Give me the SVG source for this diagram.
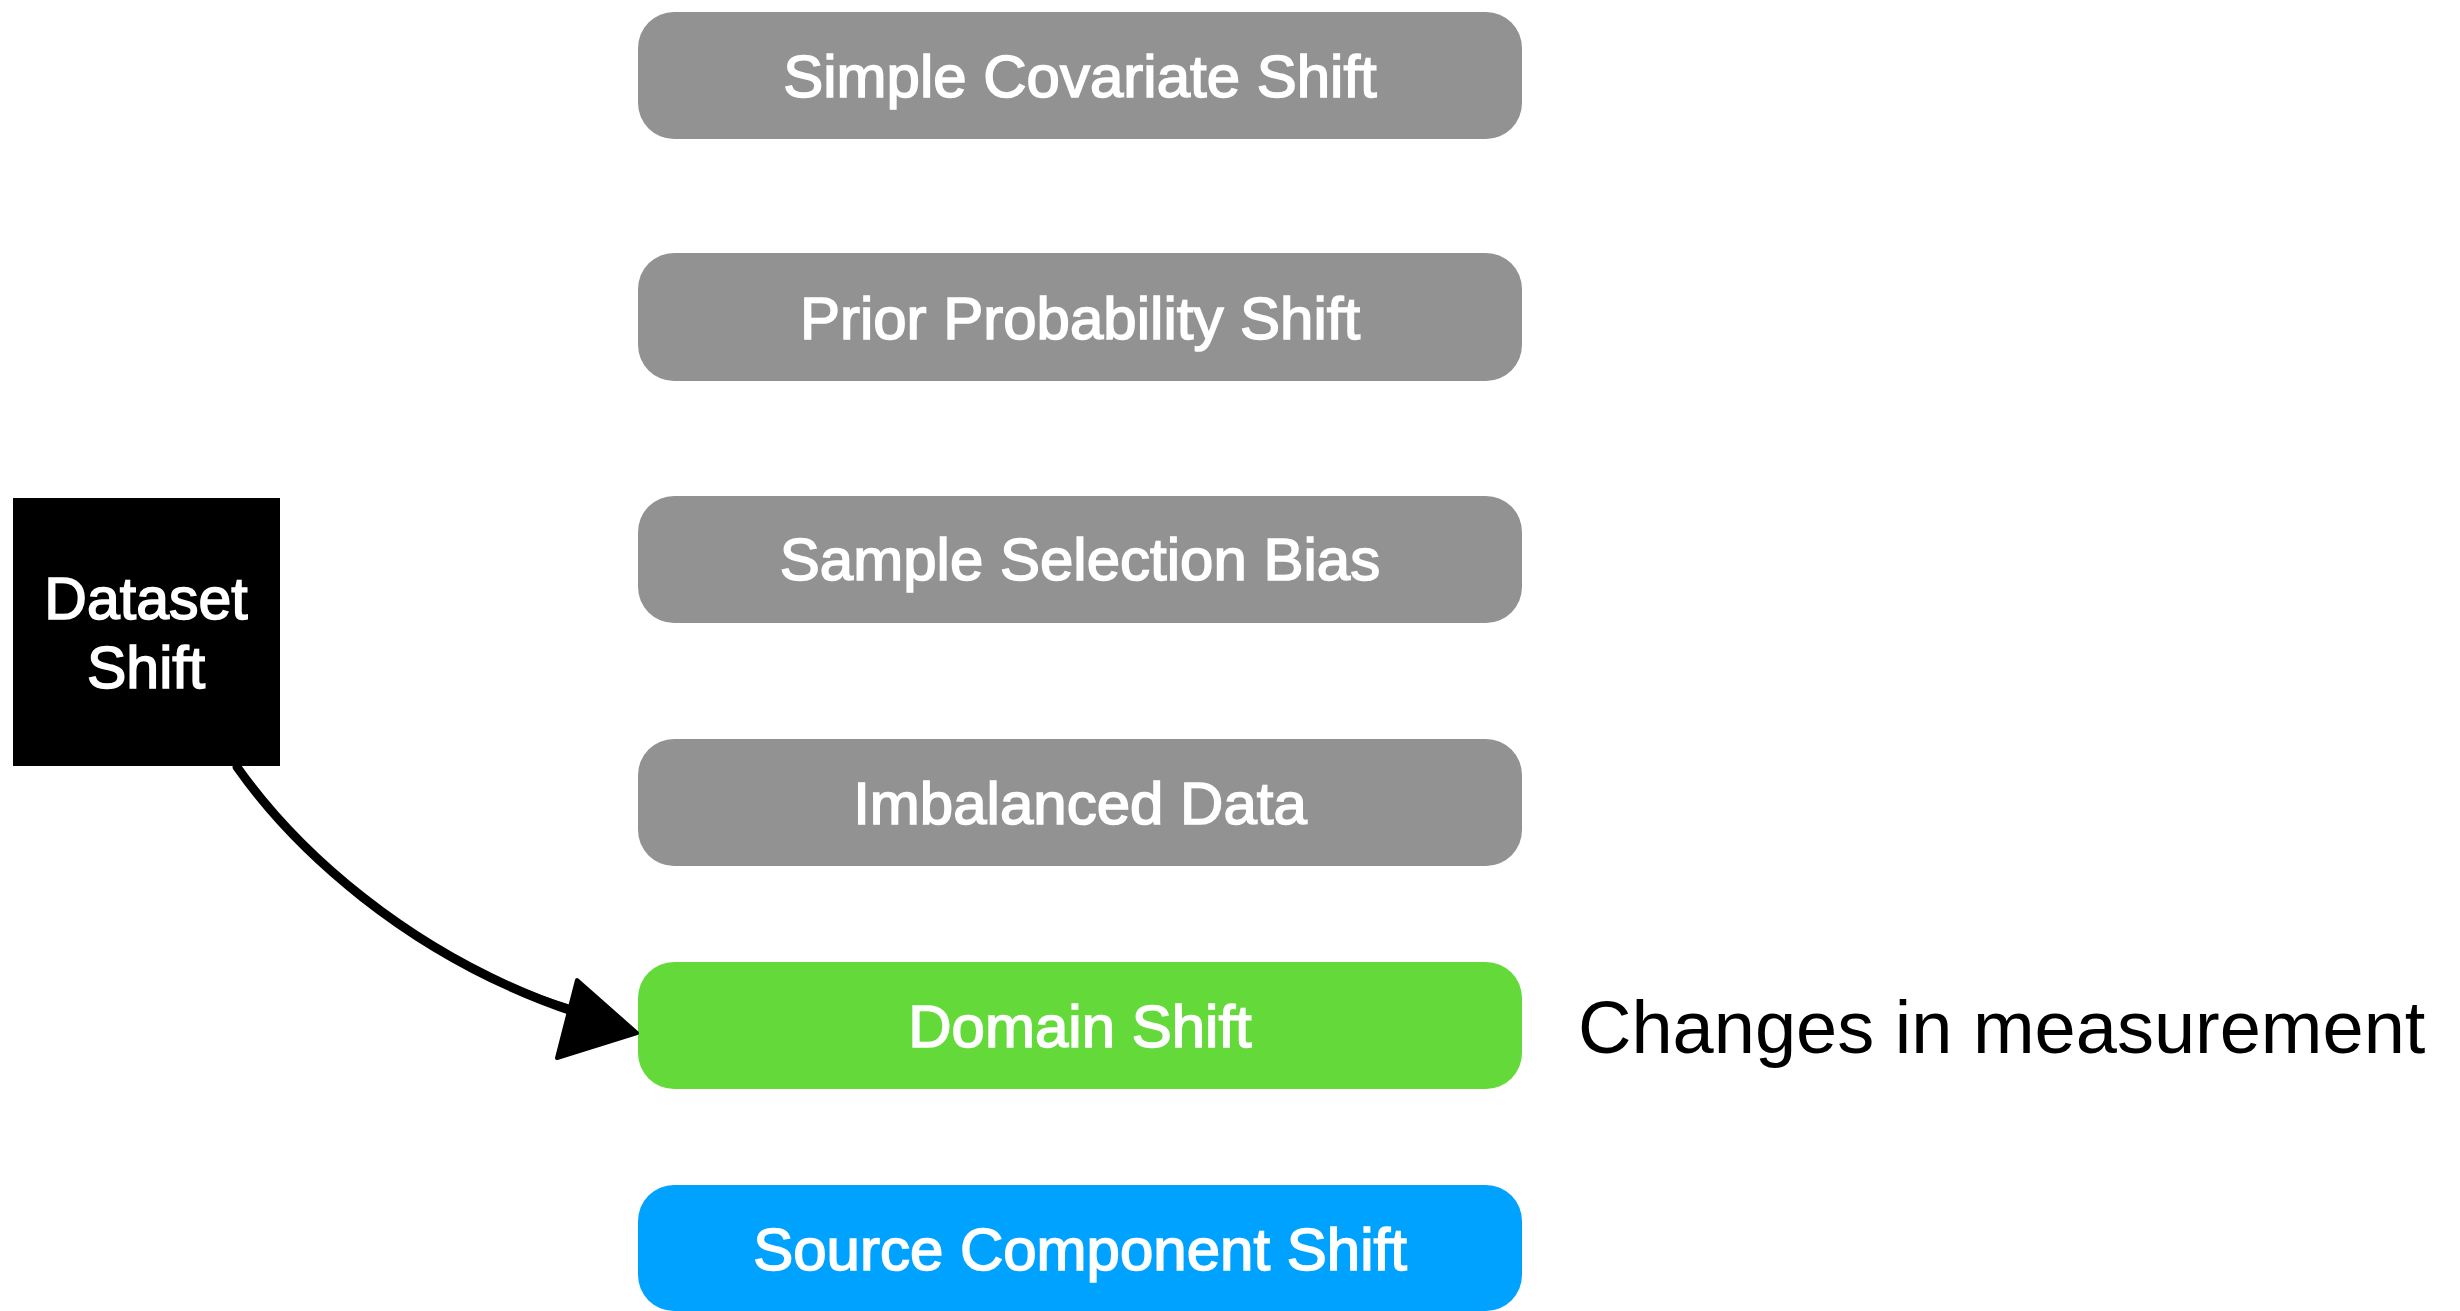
<svg xmlns="http://www.w3.org/2000/svg" width="2460" height="1311" viewBox="0 0 2460 1311">
<style>
.box{stroke:none}
.gray{fill:#929292}
.green{fill:#63DA3A}
.blue{fill:#00A2FF}
.lbl{font-family:"Liberation Sans",Arial,sans-serif;font-size:60px;fill:#fff;stroke:#fff;stroke-width:1.6;text-anchor:middle}
.note{font-family:"Liberation Sans",Arial,sans-serif;font-size:74px;fill:#000}
.conn{fill:none;stroke:#000;stroke-width:9;stroke-linecap:round}
</style>
<rect width="2460" height="1311" fill="#fff"/>
<g id="node-dataset-shift">
<rect x="13" y="498" width="267" height="268" fill="#000"/>
<text class="lbl" x="146" y="619" style="font-size:59px">Dataset</text>
<text class="lbl" x="146" y="688" style="font-size:59px">Shift</text>
</g>
<g id="node-simple-covariate-shift">
<rect class="box gray" x="638" y="12" width="884" height="127" rx="36"/>
<text class="lbl" x="1080" y="97">Simple Covariate Shift</text>
</g>
<g id="node-prior-probability-shift">
<rect class="box gray" x="638" y="253" width="884" height="128" rx="36"/>
<text class="lbl" x="1080" y="339">Prior Probability Shift</text>
</g>
<g id="node-sample-selection-bias">
<rect class="box gray" x="638" y="496" width="884" height="127" rx="36"/>
<text class="lbl" x="1080" y="580">Sample Selection Bias</text>
</g>
<g id="node-imbalanced-data">
<rect class="box gray" x="638" y="739" width="884" height="127" rx="36"/>
<text class="lbl" x="1080" y="824">Imbalanced Data</text>
</g>
<g id="node-domain-shift">
<rect class="box green" x="638" y="962" width="884" height="127" rx="36"/>
<text class="lbl" x="1080" y="1047">Domain Shift</text>
</g>
<g id="node-source-component-shift">
<rect class="box blue" x="638" y="1185" width="884" height="126" rx="36"/>
<text class="lbl" x="1080" y="1270">Source Component Shift</text>
</g>
<g id="note-changes">
<text class="note" x="1578" y="1053">Changes in measurement</text>
</g>
<g id="connectors">
<path class="conn" d="M237,767 C292,845 405,955 575,1012"/>
<path class="conn" d="M242,773 C298,850 410,958 572,1007" style="stroke-width:3"/>
<polygon points="637,1033 577,980 557,1058" fill="#000" stroke="#000" stroke-width="4" stroke-linejoin="round"/>
</g>
</svg>
